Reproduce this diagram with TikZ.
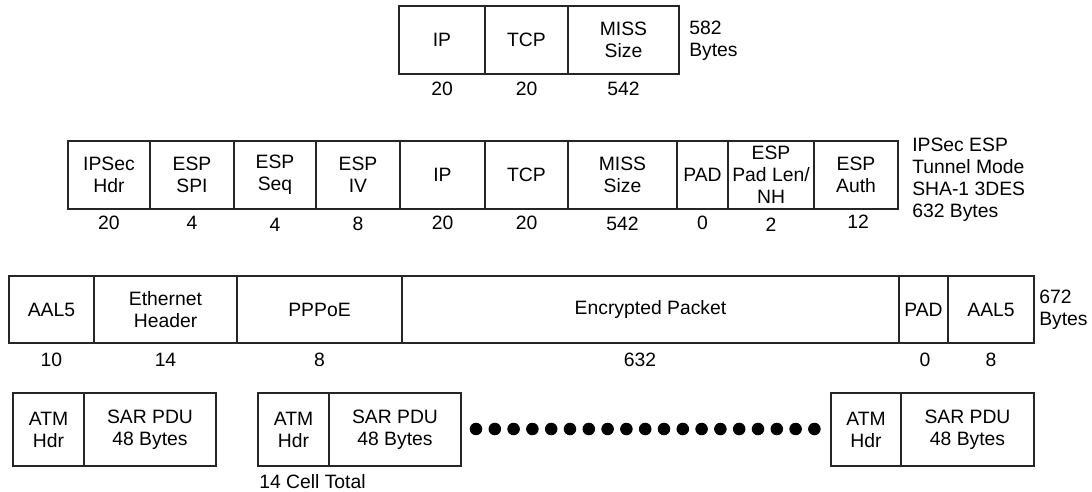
\documentclass[tikz,border=0pt]{standalone}
\usepackage{fontspec}
\setmainfont{Liberation Sans}
\begin{document}
\begin{tikzpicture}[x=0.75pt,y=-0.75pt,
  every node/.style={font=\fontsize{14.5}{16.5}\selectfont,align=center,inner sep=0pt},
  frame/.style={line width=0.9pt,draw=black!85}]
  \useasboundingbox (0,0) rectangle (1092,492);

  % plain packet
  \draw[frame] (399,6) rectangle (679,74);
  \draw[frame] (485,6) -- (485,74);
  \draw[frame] (568,6) -- (568,74);
  \node (ip) at (442,40) {IP};
  \node (tcp) at (526.5,40) {TCP};
  \node (miss) at (623.5,40) {MISS\\Size};
  \node[anchor=west,align=left] (plainsize) at (689,41) {582\\Bytes};
  \node (ipn) at (442,89) {20};
  \node (tcpn) at (526.5,89) {20};
  \node (missn) at (623.5,89) {542};

  % ESP tunnel packet
  \draw[frame] (68,141) rectangle (898,209);
  \draw[frame] (150,141) -- (150,209);
  \draw[frame] (234,141) -- (234,209);
  \draw[frame] (316,141) -- (316,209);
  \draw[frame] (400,141) -- (400,209);
  \draw[frame] (485,141) -- (485,209);
  \draw[frame] (568,141) -- (568,209);
  \draw[frame] (677,141) -- (677,209);
  \draw[frame] (728,141) -- (728,209);
  \draw[frame] (814,141) -- (814,209);
  \node (ipsechdr) at (109,175) {IPSec\\Hdr};
  \node (espspi) at (192,175) {ESP\\SPI};
  \node (espseq) at (275,175) {ESP\\Seq};
  \node (espiv) at (358,175) {ESP\\IV};
  \node (esp_ip) at (442.5,175) {IP};
  \node (esp_tcp) at (526.5,175) {TCP};
  \node (esp_miss) at (622.5,175) {MISS\\Size};
  \node (esppad) at (702.5,175) {PAD};
  \node (esppadlen) at (771,175) {ESP\\Pad Len/\\NH};
  \node (espauth) at (856,175) {ESP\\Auth};
  \node[anchor=west,align=left] (espsize) at (912,180) {IPSec ESP\\Tunnel Mode\\SHA-1 3DES\\632 Bytes};
  \node (ipsechdrn) at (109,223) {20};
  \node (espspin) at (192,223) {4};
  \node (espseqn) at (275,225) {4};
  \node (espivn) at (358,224) {8};
  \node (esp_ipn) at (442.5,223) {20};
  \node (esp_tcpn) at (526.5,223) {20};
  \node (esp_missn) at (622.5,224) {542};
  \node (esppadn) at (702.5,223) {0};
  \node (esppadlenn) at (771,225) {2};
  \node (espauthn) at (858,222) {12};

  % AAL5 frame
  \draw[frame] (9,276) rectangle (1034,343);
  \draw[frame] (94,276) -- (94,343);
  \draw[frame] (237,276) -- (237,343);
  \draw[frame] (402,276) -- (402,343);
  \draw[frame] (899,276) -- (899,343);
  \draw[frame] (948,276) -- (948,343);
  \node (aalhead) at (51.5,309.5) {AAL5};
  \node (ethhdr) at (165.5,309.5) {Ethernet\\Header};
  \node (pppoe) at (319.5,309.5) {PPPoE};
  \node (encpkt) at (650.5,309.5) {Encrypted Packet};
  \node (aalpad) at (923.5,309.5) {PAD};
  \node (aaltrail) at (991,309.5) {AAL5};
  \node[anchor=west,align=left] (aalsize) at (1039,310) {672\\Bytes};
  \node (aalheadn) at (51.5,360) {10};
  \node (ethhdrn) at (165.5,360) {14};
  \node (pppoen) at (319.5,360) {8};
  \node (encpktn) at (640,360) {632};
  \node (aalpadn) at (925,360) {0};
  \node (aaltrailn) at (991,360) {8};

  % ATM cells
  \draw[frame] (13,393) rectangle (216,466);
  \draw[frame] (84,393) -- (84,466);
  \node (atmhdra) at (48.5,429.5) {ATM\\Hdr};
  \node (sarpdua) at (150,429.5) {SAR PDU\\48 Bytes};
  \draw[frame] (258,393) rectangle (461,466);
  \draw[frame] (329,393) -- (329,466);
  \node (atmhdrb) at (293.5,429.5) {ATM\\Hdr};
  \node (sarpdub) at (395,429.5) {SAR PDU\\48 Bytes};
  \draw[frame] (831,393) rectangle (1034,466);
  \draw[frame] (901,393) -- (901,466);
  \node (atmhdrc) at (866,429.5) {ATM\\Hdr};
  \node (sarpduc) at (967.5,429.5) {SAR PDU\\48 Bytes};
  \node[anchor=west] (celltotal) at (259,482) {14 Cell Total};
  \foreach \i in {0,...,18}
    \fill (476+\i*18.8,429) circle (4.7pt);
\end{tikzpicture}
\end{document}
